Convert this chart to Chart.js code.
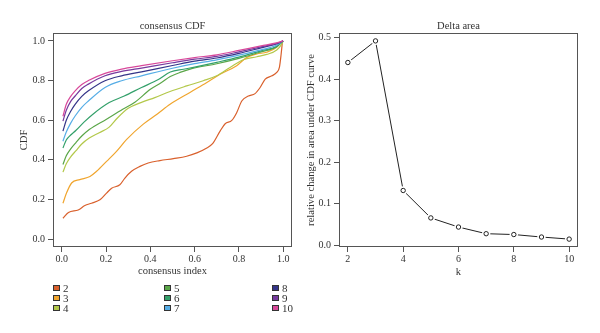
<!DOCTYPE html>
<html>
<head>
<meta charset="utf-8">
<script src="https://cdn.jsdelivr.net/npm/chart.js@4/dist/chart.umd.min.js"></script>
<style>
  html, body { margin: 0; padding: 0; background: #fff; }
  #wrap { position: relative; width: 600px; height: 333px; overflow: hidden; }
  canvas { position: absolute; top: 0; }
  #cdf { left: 0; }
  #delta { left: 300px; }
  #legend { position: absolute; left: 0; top: 0; font-family: "Liberation Serif", serif; font-size: 11px; color: #333; }
  .item { position: absolute; display: flex; align-items: center; height: 10px; line-height: 10px; white-space: nowrap; }
  .box { width: 5px; height: 4px; border: 1px solid #333; margin-right: 3px; }
</style>
</head>
<body>
<div id="wrap">
  <canvas id="cdf" width="300" height="333"></canvas>
  <canvas id="delta" width="300" height="333"></canvas>
  <div id="legend"></div>
</div>
<script>
// number of clusters k
const kValues = [2, 3, 4, 5, 6, 7, 8, 9, 10];
const kColors = ['#d9602c', '#f0a52e', '#b3c84a', '#5aa648', '#33a06a', '#56ade6', '#343488', '#763a9e', '#d8489a'];

// consensus CDF curves, [consensus index, CDF]
const cdf2 = [[0.005,0.105],[0.03,0.134],[0.074,0.147],[0.104,0.169],[0.134,0.181],[0.172,0.198],[0.202,0.232],[0.225,0.257],[0.262,0.274],[0.285,0.308],[0.315,0.342],[0.353,0.367],[0.39,0.384],[0.443,0.396],[0.504,0.406],[0.564,0.418],[0.61,0.435],[0.655,0.46],[0.68,0.48],[0.715,0.545],[0.738,0.582],[0.768,0.599],[0.79,0.638],[0.813,0.697],[0.843,0.722],[0.873,0.734],[0.896,0.765],[0.919,0.807],[0.949,0.824],[0.971,0.841],[0.983,0.866],[0.991,0.934],[0.997,1.0]];
const cdf3 = [[0.005,0.181],[0.021,0.232],[0.044,0.283],[0.081,0.30],[0.127,0.316],[0.157,0.342],[0.202,0.392],[0.247,0.443],[0.293,0.503],[0.368,0.58],[0.43,0.63],[0.489,0.68],[0.579,0.74],[0.655,0.79],[0.715,0.832],[0.79,0.875],[0.836,0.917],[0.881,0.934],[0.926,0.943],[0.971,0.968],[0.994,0.998]];
const cdf4 = [[0.005,0.338],[0.02,0.38],[0.04,0.415],[0.063,0.445],[0.09,0.48],[0.124,0.51],[0.169,0.537],[0.214,0.565],[0.25,0.61],[0.3,0.66],[0.36,0.69],[0.42,0.714],[0.489,0.745],[0.564,0.773],[0.639,0.799],[0.70,0.824],[0.76,0.866],[0.82,0.905],[0.881,0.92],[0.926,0.932],[0.971,0.954],[0.994,0.985],[1.0,1.0]];
const cdf5 = [[0.005,0.376],[0.02,0.42],[0.04,0.455],[0.063,0.486],[0.09,0.52],[0.124,0.553],[0.2,0.604],[0.275,0.655],[0.33,0.69],[0.4,0.756],[0.45,0.79],[0.49,0.82],[0.534,0.841],[0.587,0.86],[0.7,0.885],[0.8,0.912],[0.9,0.945],[0.97,0.97],[1.0,1.0]];
const cdf6 = [[0.005,0.46],[0.02,0.50],[0.04,0.525],[0.063,0.548],[0.1,0.59],[0.139,0.629],[0.214,0.689],[0.282,0.722],[0.36,0.765],[0.436,0.805],[0.49,0.843],[0.55,0.857],[0.6,0.868],[0.7,0.892],[0.8,0.918],[0.9,0.95],[0.97,0.972],[1.0,1.0]];
const cdf7 = [[0.005,0.494],[0.02,0.54],[0.04,0.585],[0.06,0.621],[0.09,0.665],[0.12,0.697],[0.195,0.765],[0.27,0.799],[0.36,0.824],[0.5,0.862],[0.6,0.885],[0.7,0.904],[0.8,0.928],[0.9,0.955],[0.97,0.978],[1.0,1.0]];
const cdf8 = [[0.005,0.545],[0.02,0.60],[0.04,0.645],[0.06,0.68],[0.09,0.72],[0.12,0.748],[0.195,0.799],[0.27,0.824],[0.36,0.844],[0.5,0.876],[0.6,0.898],[0.7,0.914],[0.8,0.937],[0.9,0.965],[0.97,0.985],[1.0,1.0]];
const cdf9 = [[0.005,0.595],[0.02,0.65],[0.04,0.695],[0.06,0.722],[0.09,0.76],[0.12,0.782],[0.195,0.824],[0.27,0.846],[0.36,0.863],[0.5,0.89],[0.6,0.908],[0.7,0.922],[0.8,0.945],[0.9,0.97],[0.97,0.988],[1.0,1.0]];
const cdf10 = [[0.005,0.62],[0.02,0.68],[0.04,0.72],[0.06,0.748],[0.09,0.78],[0.12,0.80],[0.195,0.836],[0.27,0.858],[0.36,0.875],[0.5,0.90],[0.6,0.916],[0.7,0.93],[0.8,0.952],[0.9,0.975],[0.97,0.99],[1.0,1.0]];
const cdfCurves = [cdf2, cdf3, cdf4, cdf5, cdf6, cdf7, cdf8, cdf9, cdf10];

// relative change in area under the CDF curve for each k
const deltaArea = [0.44, 0.492, 0.132, 0.066, 0.044, 0.028, 0.026, 0.020, 0.015];

// tick labels
const cdfTicks = [0, 0.2, 0.4, 0.6, 0.8, 1.0];
const deltaXTicks = [2, 4, 6, 8, 10];
const deltaYTicks = [0, 0.1, 0.2, 0.3, 0.4, 0.5];

const FONT = "'Liberation Serif', 'Times New Roman', serif";
Chart.defaults.font.family = FONT;
Chart.defaults.color = '#333';

// box around the plotting region
const framePlugin = {
  id: 'frame',
  afterDraw(chart) {
    const a = chart.chartArea;
    const ctx = chart.ctx;
    ctx.save();
    ctx.strokeStyle = '#555';
    ctx.lineWidth = 1;
    ctx.strokeRect(Math.round(a.left) + 0.5, Math.round(a.top) + 0.5,
                   Math.round(a.right - a.left) - 1, Math.round(a.bottom - a.top) - 1);
    ctx.restore();
  }
};

function axis(opts) {
  return {
    type: 'linear',
    min: opts.min,
    max: opts.max,
    afterBuildTicks: s => { s.ticks = opts.ticks.map(v => ({ value: v })); },
    afterFit: opts.fit,
    ticks: { font: { size: 10 }, color: '#333', padding: opts.pad, maxRotation: 0, autoSkip: false, callback: opts.fmt },
    grid: { display: true, drawOnChartArea: false, drawTicks: true, tickLength: 5, color: '#555' },
    border: { display: false },
    title: { display: true, text: opts.title, color: '#333', font: { size: 10.6 }, padding: opts.titlePad }
  };
}

new Chart(document.getElementById('cdf'), {
  type: 'line',
  data: {
    datasets: cdfCurves.map((c, i) => ({
      label: String(kValues[i]),
      data: c.map(p => ({ x: p[0], y: p[1] })),
      borderColor: kColors[i],
      borderWidth: 1.2,
      pointRadius: 0,
      fill: false,
      cubicInterpolationMode: 'monotone'
    })).reverse()
  },
  options: {
    responsive: false,
    animation: false,
    layout: { padding: { left: 0, right: 8, top: 0, bottom: 53 } },
    plugins: {
      legend: { display: false },
      tooltip: { enabled: false },
      title: { display: true, text: 'consensus CDF', fullSize: false, color: '#333',
               font: { size: 10.5, weight: 'normal' }, padding: { top: 19.5, bottom: 0.9 } }
    },
    scales: {
      x: axis({ min: -0.04, max: 1.04, ticks: cdfTicks, fmt: v => v.toFixed(1), pad: 1,
                fit: s => { s.height = 33; }, title: 'consensus index', titlePad: { top: 0, bottom: 2 } }),
      y: axis({ min: -0.04, max: 1.04, ticks: cdfTicks, fmt: v => v.toFixed(1), pad: 3,
                fit: s => { s.width = 53; }, title: 'CDF', titlePad: { top: 17.6, bottom: 0 } })
    }
  },
  plugins: [framePlugin]
});

const deltaPoints = kValues.map((k, i) => ({ x: k, y: deltaArea[i] }));
new Chart(document.getElementById('delta'), {
  type: 'line',
  data: {
    datasets: [
      { data: deltaPoints, showLine: false, pointRadius: 2.2, pointBorderWidth: 1,
        pointBorderColor: '#222', pointBackgroundColor: '#fff' },
      { data: deltaPoints, showLine: false, pointRadius: 4.2, pointBorderWidth: 0,
        pointBorderColor: '#fff', pointBackgroundColor: '#fff' },
      { data: deltaPoints, borderColor: '#222', borderWidth: 1, pointRadius: 0, tension: 0 }
    ]
  },
  options: {
    responsive: false,
    animation: false,
    layout: { padding: { left: 0, right: 22, top: 0, bottom: 53 } },
    plugins: {
      legend: { display: false },
      tooltip: { enabled: false },
      title: { display: true, text: 'Delta area', fullSize: false, color: '#333',
               font: { size: 10.5, weight: 'normal' }, padding: { top: 19.5, bottom: 0.9 } }
    },
    scales: {
      x: axis({ min: 1.68, max: 10.32, ticks: deltaXTicks, fmt: v => String(v), pad: 1,
                fit: s => { s.height = 33; }, title: 'k', titlePad: { top: 0, bottom: 1.7 } }),
      y: axis({ min: -0.004, max: 0.511, ticks: deltaYTicks, fmt: v => v.toFixed(1), pad: 3,
                fit: s => { s.width = 39; }, title: 'relative change in area under CDF curve', titlePad: { top: 4.6, bottom: 0 } })
    }
  },
  plugins: [framePlugin]
});

// legend in three columns below the CDF panel
const legendCols = [53, 164, 272];
const legendRows = [288, 298, 308];
const legend = document.getElementById('legend');
kValues.forEach((k, i) => {
  const item = document.createElement('div');
  item.className = 'item';
  item.style.left = legendCols[Math.floor(i / 3)] + 'px';
  item.style.top = (legendRows[i % 3] - 5) + 'px';
  const box = document.createElement('span');
  box.className = 'box';
  box.style.background = kColors[i];
  const txt = document.createElement('span');
  txt.textContent = String(k);
  item.appendChild(box);
  item.appendChild(txt);
  legend.appendChild(item);
});
</script>
</body>
</html>
